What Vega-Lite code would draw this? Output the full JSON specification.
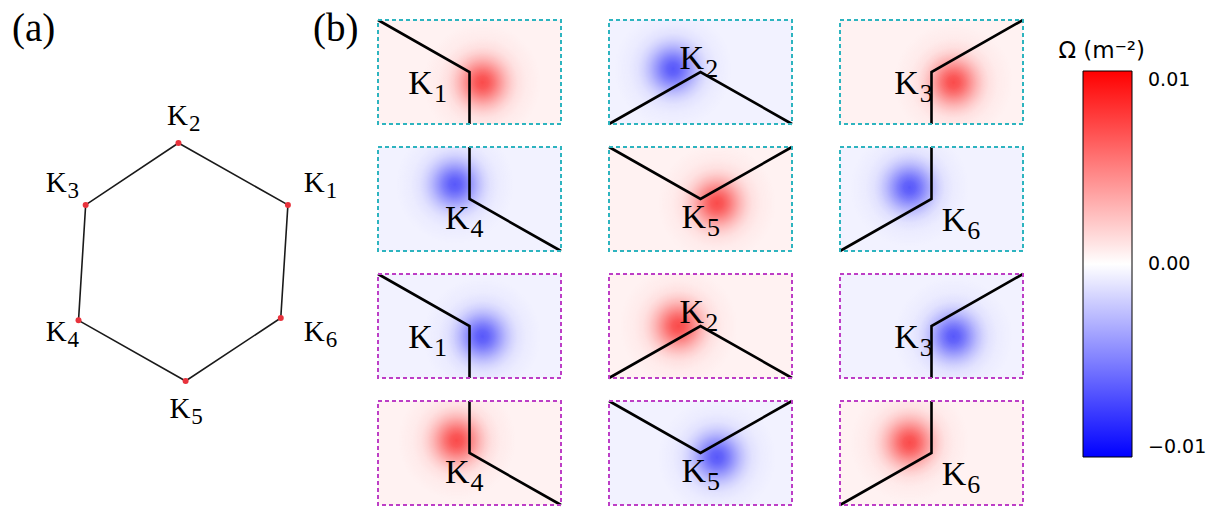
{
  "$schema": "https://vega.github.io/schema/vega-lite/v6.json",
  "padding": {"left": 0, "top": 10, "right": 0, "bottom": 0},
  "background": "white",
  "bounds": "flush",
  "config": {"view": {"stroke": null}},
  "spacing": 8,
  "datasets": {
    "hex": [
      {"k": "1", "o": 1, "x": 0.89, "y": 0.48, "lx": 1.2, "ly": 0.59},
      {"k": "2", "o": 2, "x": -0.03, "y": 1.0, "lx": 0.05, "ly": 1.15},
      {"k": "3", "o": 3, "x": -0.81, "y": 0.48, "lx": -0.97, "ly": 0.59},
      {"k": "4", "o": 4, "x": -0.87, "y": -0.49, "lx": -0.97, "ly": -0.66},
      {"k": "5", "o": 5, "x": 0.03, "y": -1.0, "lx": 0.07, "ly": -1.31},
      {"k": "6", "o": 6, "x": 0.83, "y": -0.47, "lx": 1.2, "ly": -0.66}
    ],
    "tags": [
      {"t": "(a)", "x": -1.43, "y": 1.857},
      {"t": "(b)", "x": 1.1, "y": 1.857}
    ],
    "panels": [
      {"kind": "cell", "r": 1, "c": 1, "k": "1", "grp": "c", "om": 0.0065, "bg": 0.0005, "bu": 0.57, "bv": 0.4, "lu": 0.3, "lv": 0.29},
      {"kind": "cell", "r": 1, "c": 2, "k": "2", "grp": "c", "om": -0.0065, "bg": -0.0005, "bu": 0.35, "bv": 0.53, "lu": 0.52, "lv": 0.53},
      {"kind": "cell", "r": 1, "c": 3, "k": "3", "grp": "c", "om": 0.0065, "bg": 0.0005, "bu": 0.62, "bv": 0.4, "lu": 0.43, "lv": 0.29},
      {"kind": "cell", "r": 2, "c": 1, "k": "4", "grp": "c", "om": -0.0065, "bg": -0.0005, "bu": 0.42, "bv": 0.64, "lu": 0.5, "lv": 0.21},
      {"kind": "cell", "r": 2, "c": 2, "k": "5", "grp": "c", "om": 0.0065, "bg": 0.0005, "bu": 0.59, "bv": 0.46, "lu": 0.53, "lv": 0.22},
      {"kind": "cell", "r": 2, "c": 3, "k": "6", "grp": "c", "om": -0.0065, "bg": -0.0005, "bu": 0.38, "bv": 0.61, "lu": 0.69, "lv": 0.19},
      {"kind": "cell", "r": 3, "c": 1, "k": "1", "grp": "m", "om": -0.0065, "bg": -0.0005, "bu": 0.57, "bv": 0.4, "lu": 0.3, "lv": 0.29},
      {"kind": "cell", "r": 3, "c": 2, "k": "2", "grp": "m", "om": 0.0065, "bg": 0.0005, "bu": 0.38, "bv": 0.5, "lu": 0.52, "lv": 0.53},
      {"kind": "cell", "r": 3, "c": 3, "k": "3", "grp": "m", "om": -0.0065, "bg": -0.0005, "bu": 0.62, "bv": 0.4, "lu": 0.43, "lv": 0.29},
      {"kind": "cell", "r": 4, "c": 1, "k": "4", "grp": "m", "om": 0.0065, "bg": 0.0005, "bu": 0.43, "bv": 0.62, "lu": 0.5, "lv": 0.21},
      {"kind": "cell", "r": 4, "c": 2, "k": "5", "grp": "m", "om": -0.0065, "bg": -0.0005, "bu": 0.59, "bv": 0.46, "lu": 0.53, "lv": 0.22},
      {"kind": "cell", "r": 4, "c": 3, "k": "6", "grp": "m", "om": 0.0065, "bg": 0.0005, "bu": 0.38, "bv": 0.6, "lu": 0.69, "lv": 0.19},

      {"kind": "edge", "r": 1, "c": 1, "o": 1, "u": 0, "v": 1},
      {"kind": "edge", "r": 1, "c": 1, "o": 2, "u": 0.5, "v": 0.5},
      {"kind": "edge", "r": 1, "c": 1, "o": 3, "u": 0.5, "v": 0},
      {"kind": "edge", "r": 1, "c": 2, "o": 1, "u": 0, "v": 0},
      {"kind": "edge", "r": 1, "c": 2, "o": 2, "u": 0.5, "v": 0.5},
      {"kind": "edge", "r": 1, "c": 2, "o": 3, "u": 1, "v": 0},
      {"kind": "edge", "r": 1, "c": 3, "o": 1, "u": 1, "v": 1},
      {"kind": "edge", "r": 1, "c": 3, "o": 2, "u": 0.5, "v": 0.5},
      {"kind": "edge", "r": 1, "c": 3, "o": 3, "u": 0.5, "v": 0},
      {"kind": "edge", "r": 2, "c": 1, "o": 1, "u": 0.5, "v": 1},
      {"kind": "edge", "r": 2, "c": 1, "o": 2, "u": 0.5, "v": 0.5},
      {"kind": "edge", "r": 2, "c": 1, "o": 3, "u": 1, "v": 0},
      {"kind": "edge", "r": 2, "c": 2, "o": 1, "u": 0, "v": 1},
      {"kind": "edge", "r": 2, "c": 2, "o": 2, "u": 0.5, "v": 0.5},
      {"kind": "edge", "r": 2, "c": 2, "o": 3, "u": 1, "v": 1},
      {"kind": "edge", "r": 2, "c": 3, "o": 1, "u": 0.5, "v": 1},
      {"kind": "edge", "r": 2, "c": 3, "o": 2, "u": 0.5, "v": 0.5},
      {"kind": "edge", "r": 2, "c": 3, "o": 3, "u": 0, "v": 0},
      {"kind": "edge", "r": 3, "c": 1, "o": 1, "u": 0, "v": 1},
      {"kind": "edge", "r": 3, "c": 1, "o": 2, "u": 0.5, "v": 0.5},
      {"kind": "edge", "r": 3, "c": 1, "o": 3, "u": 0.5, "v": 0},
      {"kind": "edge", "r": 3, "c": 2, "o": 1, "u": 0, "v": 0},
      {"kind": "edge", "r": 3, "c": 2, "o": 2, "u": 0.5, "v": 0.5},
      {"kind": "edge", "r": 3, "c": 2, "o": 3, "u": 1, "v": 0},
      {"kind": "edge", "r": 3, "c": 3, "o": 1, "u": 1, "v": 1},
      {"kind": "edge", "r": 3, "c": 3, "o": 2, "u": 0.5, "v": 0.5},
      {"kind": "edge", "r": 3, "c": 3, "o": 3, "u": 0.5, "v": 0},
      {"kind": "edge", "r": 4, "c": 1, "o": 1, "u": 0.5, "v": 1},
      {"kind": "edge", "r": 4, "c": 1, "o": 2, "u": 0.5, "v": 0.5},
      {"kind": "edge", "r": 4, "c": 1, "o": 3, "u": 1, "v": 0},
      {"kind": "edge", "r": 4, "c": 2, "o": 1, "u": 0, "v": 1},
      {"kind": "edge", "r": 4, "c": 2, "o": 2, "u": 0.5, "v": 0.5},
      {"kind": "edge", "r": 4, "c": 2, "o": 3, "u": 1, "v": 1},
      {"kind": "edge", "r": 4, "c": 3, "o": 1, "u": 0.5, "v": 1},
      {"kind": "edge", "r": 4, "c": 3, "o": 2, "u": 0.5, "v": 0.5},
      {"kind": "edge", "r": 4, "c": 3, "o": 3, "u": 0, "v": 0}
    ]
  },
  "hconcat": [
    {
      "width": 370,
      "height": 485,
      "layer": [
        {
          "data": {"name": "hex"},
          "mark": {"type": "line", "interpolate": "linear-closed", "color": "#1a1a1a", "strokeWidth": 1.6},
          "encoding": {
            "x": {"field": "x", "type": "quantitative", "scale": {"domain": [-1.53, 1.58], "nice": false, "zero": false}, "axis": null},
            "y": {"field": "y", "type": "quantitative", "scale": {"domain": [-2.042, 2.034], "nice": false, "zero": false}, "axis": null},
            "order": {"field": "o", "type": "quantitative"}
          }
        },
        {
          "data": {"name": "hex"},
          "mark": {"type": "point", "shape": "circle", "filled": true, "size": 36, "color": "#e8323c", "opacity": 1},
          "encoding": {
            "x": {"field": "x", "type": "quantitative"},
            "y": {"field": "y", "type": "quantitative"}
          }
        },
        {
          "data": {"name": "hex"},
          "mark": {"type": "text", "font": "Liberation Serif", "fontSize": 29, "align": "right", "baseline": "alphabetic", "color": "black"},
          "encoding": {
            "x": {"field": "lx", "type": "quantitative"},
            "y": {"field": "ly", "type": "quantitative"},
            "text": {"value": "K"}
          }
        },
        {
          "data": {"name": "hex"},
          "mark": {"type": "text", "font": "Liberation Serif", "fontSize": 23, "align": "left", "baseline": "alphabetic", "dx": 1, "dy": 6, "color": "black"},
          "encoding": {
            "x": {"field": "lx", "type": "quantitative"},
            "y": {"field": "ly", "type": "quantitative"},
            "text": {"field": "k"}
          }
        },
        {
          "data": {"name": "tags"},
          "mark": {"type": "text", "font": "Liberation Serif", "fontSize": 39, "align": "left", "baseline": "alphabetic", "color": "black"},
          "encoding": {
            "x": {"field": "x", "type": "quantitative"},
            "y": {"field": "y", "type": "quantitative"},
            "text": {"field": "t"}
          }
        }
      ]
    },
    {
      "data": {"name": "panels"},
      "bounds": "flush",
      "facet": {
        "row": {"field": "r", "type": "ordinal", "header": null},
        "column": {"field": "c", "type": "ordinal", "header": null}
      },
      "spacing": {"row": 23, "column": 48},
      "spec": {
        "width": 183,
        "height": 104,
        "layer": [
          {
            "transform": [{"filter": "datum.kind === 'cell'"}],
            "mark": {"type": "rect", "strokeWidth": 0},
            "encoding": {
              "x": {"datum": 0, "type": "quantitative", "scale": {"domain": [0, 1], "nice": false, "zero": false}, "axis": null},
              "x2": {"datum": 1},
              "y": {"datum": 0, "type": "quantitative", "scale": {"domain": [0, 1], "nice": false, "zero": false}, "axis": null},
              "y2": {"datum": 1},
              "fill": {
                "field": "bg",
                "type": "quantitative",
                "scale": {"domain": [-0.01, 0, 0.01], "range": ["#0000ff", "#ffffff", "#ff0000"], "interpolate": "rgb"},
                "legend": {
                  "title": "Ω (m⁻²)",
                  "orient": "none",
                  "legendX": 1058,
                  "legendY": 20,
                  "values": [-0.01, 0, 0.01],
                  "format": ".2f",
                  "gradientLength": 386,
                  "gradientThickness": 49,
                  "gradientStrokeColor": "black",
                  "gradientStrokeWidth": 1,
                  "labelFont": "DejaVu Sans",
                  "labelFontSize": 19,
                  "labelColor": "black",
                  "labelOffset": 16,
                  "labelBaseline": "middle",
                  "labelOverlap": false,
                  "titleFont": "DejaVu Sans",
                  "titleFontSize": 23,
                  "titleFontWeight": "normal",
                  "titleColor": "black",
                  "titlePadding": 8,
                  "titleAnchor": "middle",
                  "titleAlign": "right"
                }
              }
            }
          },
          {
            "transform": [{"filter": "datum.kind === 'cell' && datum.om > 0"}],
            "mark": {
              "type": "point", "shape": "circle", "filled": true, "size": 14000, "strokeWidth": 0, "opacity": 1, "clip": true,
              "fill": {"gradient": "radial", "x1": 0.5, "y1": 0.5, "r1": 0, "x2": 0.5, "y2": 0.5, "r2": 0.5,
                "stops": [
                  {"offset": 0, "color": "rgba(250,75,75,1)"},
                  {"offset": 0.1, "color": "rgba(250,75,75,0.92)"},
                  {"offset": 0.2, "color": "rgba(250,75,75,0.75)"},
                  {"offset": 0.3, "color": "rgba(250,75,75,0.54)"},
                  {"offset": 0.4, "color": "rgba(250,75,75,0.35)"},
                  {"offset": 0.5, "color": "rgba(250,75,75,0.2)"},
                  {"offset": 0.6, "color": "rgba(250,75,75,0.1)"},
                  {"offset": 0.75, "color": "rgba(250,75,75,0.04)"},
                  {"offset": 1, "color": "rgba(250,75,75,0)"}
                ]}
            },
            "encoding": {
              "x": {"field": "bu", "type": "quantitative"},
              "y": {"field": "bv", "type": "quantitative"}
            }
          },
          {
            "transform": [{"filter": "datum.kind === 'cell' && datum.om < 0"}],
            "mark": {
              "type": "point", "shape": "circle", "filled": true, "size": 14000, "strokeWidth": 0, "opacity": 1, "clip": true,
              "fill": {"gradient": "radial", "x1": 0.5, "y1": 0.5, "r1": 0, "x2": 0.5, "y2": 0.5, "r2": 0.5,
                "stops": [
                  {"offset": 0, "color": "rgba(88,88,250,1)"},
                  {"offset": 0.1, "color": "rgba(88,88,250,0.92)"},
                  {"offset": 0.2, "color": "rgba(88,88,250,0.75)"},
                  {"offset": 0.3, "color": "rgba(88,88,250,0.54)"},
                  {"offset": 0.4, "color": "rgba(88,88,250,0.35)"},
                  {"offset": 0.5, "color": "rgba(88,88,250,0.2)"},
                  {"offset": 0.6, "color": "rgba(88,88,250,0.1)"},
                  {"offset": 0.75, "color": "rgba(88,88,250,0.04)"},
                  {"offset": 1, "color": "rgba(88,88,250,0)"}
                ]}
            },
            "encoding": {
              "x": {"field": "bu", "type": "quantitative"},
              "y": {"field": "bv", "type": "quantitative"}
            }
          },
          {
            "transform": [{"filter": "datum.kind === 'edge'"}],
            "mark": {"type": "line", "color": "black", "strokeWidth": 2.6},
            "encoding": {
              "x": {"field": "u", "type": "quantitative"},
              "y": {"field": "v", "type": "quantitative"},
              "order": {"field": "o", "type": "quantitative"}
            }
          },
          {
            "transform": [{"filter": "datum.kind === 'cell'"}],
            "mark": {"type": "rect", "fillOpacity": 0, "strokeWidth": 2, "strokeDash": [4, 3]},
            "encoding": {
              "x": {"datum": 0, "type": "quantitative"},
              "x2": {"datum": 1},
              "y": {"datum": 0, "type": "quantitative"},
              "y2": {"datum": 1},
              "stroke": {"field": "grp", "type": "nominal", "scale": {"domain": ["c", "m"], "range": ["#2db4bf", "#bd3ec6"]}, "legend": null}
            }
          },
          {
            "transform": [{"filter": "datum.kind === 'cell'"}],
            "mark": {"type": "text", "font": "Liberation Serif", "fontSize": 34, "align": "right", "baseline": "alphabetic", "color": "black"},
            "encoding": {
              "x": {"field": "lu", "type": "quantitative"},
              "y": {"field": "lv", "type": "quantitative"},
              "text": {"value": "K"}
            }
          },
          {
            "transform": [{"filter": "datum.kind === 'cell'"}],
            "mark": {"type": "text", "font": "Liberation Serif", "fontSize": 26, "align": "left", "baseline": "alphabetic", "dx": 1, "dy": 8, "color": "black"},
            "encoding": {
              "x": {"field": "lu", "type": "quantitative"},
              "y": {"field": "lv", "type": "quantitative"},
              "text": {"field": "k"}
            }
          }
        ]
      }
    }
  ]
}
